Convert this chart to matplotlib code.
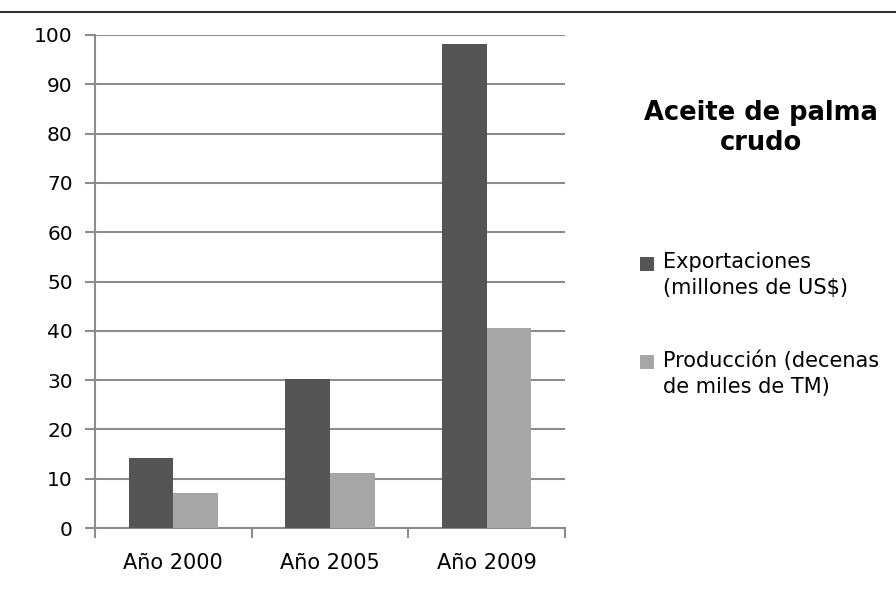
import matplotlib
matplotlib.use("Agg")
import matplotlib.pyplot as plt
from matplotlib.legend_handler import HandlerPatch
from matplotlib.patches import Rectangle
import numpy as np

plt.rcParams['font.family'] = ['DejaVu Sans']

years = ["Año 2000", "Año 2005", "Año 2009"]
exportaciones = [14.3, 30.3, 98.1]
produccion = [7.0, 11.1, 40.5]
series_labels = ["Exportaciones\n(millones de US$)", "Producción (decenas\nde miles de TM)"]

fig = plt.figure(figsize=(8.96, 5.92), dpi=100)
ax = fig.add_axes([95/896, 1 - 528/592, 470/896, 493/592])

x = np.arange(len(years))
w = 0.285
b1 = ax.bar(x - w/2, exportaciones, w, color="#555555", zorder=3)
b2 = ax.bar(x + w/2, produccion, w, color="#a6a6a6", zorder=3)

ax.set_xlim(-0.5, 2.5)
ax.set_ylim(0, 100)
ax.set_yticks(range(0, 101, 10))
ax.yaxis.grid(True, color="#8c8c8c", linewidth=1.5, zorder=0)
ax.set_xticks(x)
ax.set_xticklabels(years, fontsize=15)
ax.set_xticks([-0.5, 0.5, 1.5, 2.5], minor=True)
ax.tick_params(axis="x", which="major", length=0, pad=18)
ax.tick_params(axis="x", which="minor", length=7, width=1.5, color="#8c8c8c", direction="out")
ax.tick_params(axis="y", length=7, width=1.5, color="#8c8c8c", labelsize=14.5, pad=9)

for s in ["top", "right"]:
    ax.spines[s].set_visible(False)
ax.spines["left"].set_color("#8c8c8c")
ax.spines["left"].set_linewidth(1.5)
ax.spines["bottom"].set_color("#8c8c8c")
ax.spines["bottom"].set_linewidth(1.5)

# título a la derecha del gráfico
fig.text(761/896, 1 - 128/592, "Aceite de palma\ncrudo", ha="center", va="center",
         fontsize=18.5, fontweight="bold", linespacing=1.17)


# cuadrito de la leyenda alineado con la primera línea del texto
def cuadro_arriba(legend, orig_handle, xdescent, ydescent, width, height, fontsize):
    return Rectangle((-xdescent, -ydescent + 8.8), width, height)


h1, h2 = b1.patches[0], b2.patches[0]
leg = fig.legend([h1, h2], series_labels, loc="upper left", bbox_to_anchor=(640/896, 1 - 252/592),
                 frameon=False, fontsize=15, handlelength=0.65, handleheight=0.65,
                 handletextpad=0.45, labelspacing=2.5, borderpad=0, borderaxespad=0,
                 handler_map={h1: HandlerPatch(patch_func=cuadro_arriba),
                              h2: HandlerPatch(patch_func=cuadro_arriba)})
for t in leg.get_texts():
    t.set_linespacing(1.4)

# línea superior
fig.add_artist(plt.Line2D([0, 1], [1 - 12/592, 1 - 12/592], color="#333333", linewidth=1.5))

fig.savefig("out.png", dpi=100)
